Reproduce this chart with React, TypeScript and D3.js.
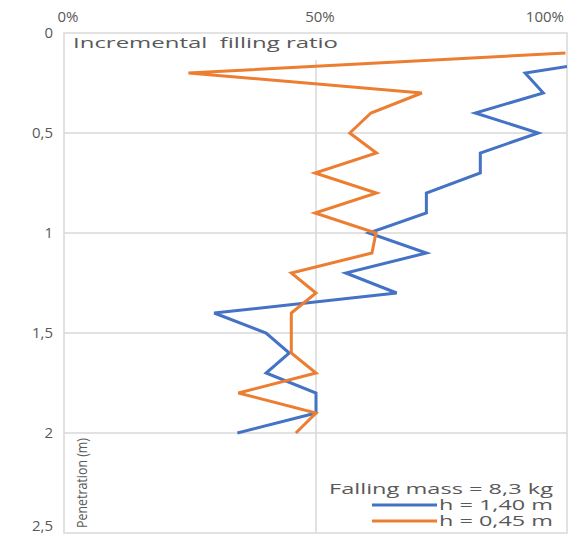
import React, { useEffect, useRef } from 'react';
import * as d3 from 'd3';

// penetration depths (m)
const depths = [0.1, 0.2, 0.3, 0.4, 0.5, 0.6, 0.7, 0.8, 0.9, 1.0, 1.1, 1.2, 1.3, 1.4, 1.5, 1.6, 1.7, 1.8, 1.9, 2.0];
// incremental filling ratio, h = 1,40 m
const ifrHigh = [1.17, 0.915, 0.951, 0.816, 0.941, 0.826, 0.826, 0.719, 0.719, 0.605, 0.719, 0.559, 0.66, 0.298, 0.401, 0.447, 0.401, 0.5, 0.5, 0.344];
// incremental filling ratio, h = 0,45 m
const ifrLow = [0.995, 0.247, 0.71, 0.609, 0.567, 0.62, 0.498, 0.62, 0.498, 0.619, 0.611, 0.451, 0.5, 0.451, 0.451, 0.451, 0.5, 0.346, 0.5, 0.46];
const xTicks = [0, 0.5, 1];
const yTicks = [0, 0.5, 1, 1.5, 2, 2.5];
const seriesNames = ['h = 1,40 m', 'h = 0,45 m'];
const colors = ['#4472C4', '#ED7D31'];

export default function App() {
  const ref = useRef<SVGSVGElement>(null);

  useEffect(() => {
    const svg = d3.select(ref.current);
    svg.selectAll('*').remove();
    const left = 64, top = 33, right = 567, bottom = 533;
    const x = d3.scaleLinear().domain([0, 1]).range([left, 568]);
    const y = d3.scaleLinear().domain([0, 2.5]).range([top, bottom]);
    const grey = '#595959';
    const font = 'Open Sans, sans-serif';

    svg.append('defs').append('clipPath').attr('id', 'plot')
      .append('rect').attr('x', left).attr('y', top).attr('width', right - left).attr('height', bottom - top);

    // grid
    svg.append('g').selectAll('line').data(yTicks.slice(1, -1)).enter().append('line')
      .attr('x1', left).attr('x2', right).attr('y1', d => y(d)).attr('y2', d => y(d))
      .attr('stroke', '#d9d9d9').attr('stroke-width', 1.5);
    svg.append('line').attr('x1', x(0.5)).attr('x2', x(0.5)).attr('y1', top + 27).attr('y2', bottom)
      .attr('stroke', '#d9d9d9').attr('stroke-width', 1.5);
    svg.append('rect').attr('x', left).attr('y', top).attr('width', right - left).attr('height', bottom - top)
      .attr('fill', 'none').attr('stroke', '#d9d9d9').attr('stroke-width', 1.5);

    // x tick labels (top)
    svg.append('g').selectAll('text').data(xTicks).enter().append('text')
      .attr('x', d => (d === 1 ? 564 : x(d) + 4))
      .attr('y', 22)
      .attr('text-anchor', d => (d === 1 ? 'end' : 'middle'))
      .attr('font-family', font).attr('font-size', 15).attr('fill', grey)
      .text(d => `${d * 100}%`);

    // y tick labels
    svg.append('g').selectAll('text').data(yTicks).enter().append('text')
      .attr('x', 53).attr('y', d => Math.min(y(d) + 5, 531))
      .attr('text-anchor', 'end')
      .attr('font-family', font).attr('font-size', 15).attr('fill', grey)
      .text(d => String(d).replace('.', ','));

    svg.append('text').attr('x', 73).attr('y', 48)
      .attr('font-family', font).attr('font-size', 15).attr('fill', grey)
      .attr('textLength', 265).attr('lengthAdjust', 'spacingAndGlyphs')
      .attr('xml:space', 'preserve')
      .text('Incremental  filling ratio');

    svg.append('text').attr('transform', 'translate(87,528) rotate(-90)')
      .attr('font-family', font).attr('font-size', 14).attr('fill', grey)
      .attr('textLength', 90).attr('lengthAdjust', 'spacingAndGlyphs')
      .text('Penetration (m)');

    const line = d3.line<number>()
      .x(d => x(d))
      .y((_, i) => y(depths[i]));
    const g = svg.append('g').attr('clip-path', 'url(#plot)');
    [ifrHigh, ifrLow].forEach((s, i) => {
      g.append('path').datum(s).attr('d', line)
        .attr('fill', 'none').attr('stroke', colors[i]).attr('stroke-width', 3)
        .attr('stroke-linejoin', 'miter');
    });

    // legend
    svg.append('text').attr('x', 553).attr('y', 494).attr('text-anchor', 'end')
      .attr('font-family', font).attr('font-size', 15).attr('fill', grey)
      .attr('textLength', 224).attr('lengthAdjust', 'spacingAndGlyphs')
      .text('Falling mass = 8,3 kg');
    seriesNames.forEach((n, i) => {
      const ly = 505 + i * 16;
      svg.append('line').attr('x1', 372).attr('x2', 437).attr('y1', ly).attr('y2', ly)
        .attr('stroke', colors[i]).attr('stroke-width', 3);
      svg.append('text').attr('x', 553).attr('y', ly + 5).attr('text-anchor', 'end')
        .attr('font-family', font).attr('font-size', 14).attr('fill', grey)
        .attr('textLength', 114).attr('lengthAdjust', 'spacingAndGlyphs')
        .text(n);
    });
  }, []);

  return (
    <svg ref={ref} width={568} height={536}
      style={{ display: 'block', position: 'absolute', left: 0, top: 0 }} />
  );
}
